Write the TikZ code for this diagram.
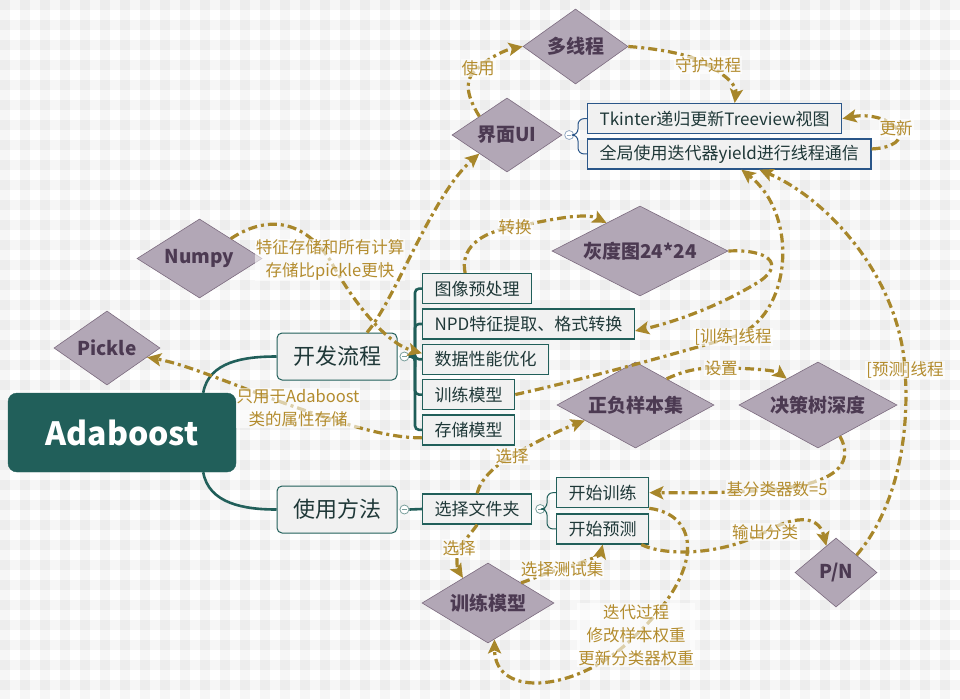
\documentclass[tikz,border=0pt]{standalone}
\usepackage{fontspec}
\setmainfont{Noto Sans CJK SC}
\usepackage{tikz}
\usetikzlibrary{positioning,arrows.meta,shapes.geometric}
\definecolor{mapteal}{HTML}{215F5A}
\definecolor{boxfill}{HTML}{F1F1F1}
\definecolor{boxtext}{HTML}{1F3838}
\definecolor{uiblue}{HTML}{2A5689}
\definecolor{ideafill}{HTML}{B2A7B6}
\definecolor{ideaedge}{HTML}{7C6B7F}
\definecolor{ideatext}{HTML}{4C3A52}
\definecolor{relgold}{HTML}{A8872B}
\definecolor{lblgold}{HTML}{B38C2E}
\newcommand{\mapfont}[2]{\fontsize{#1}{#2}\selectfont}

\begin{document}
\begin{tikzpicture}[x=1pt, y=1pt,
        root/.style={rectangle, rounded corners=9pt, fill=mapteal, draw=mapteal, text=white, font=\bfseries\mapfont{32}{36}, minimum width=228pt, minimum height=79pt},
        topic/.style={rectangle, rounded corners=5pt, fill=boxfill, draw=mapteal, line width=1pt, text=boxtext, font=\mapfont{22}{26}, minimum width=120pt, minimum height=47pt},
        sub/.style={rectangle, fill=boxfill, draw=mapteal, line width=1.3pt, text=boxtext, font=\mapfont{17}{20}, inner xsep=12pt, inner ysep=0pt, minimum height=30pt},
        uisub/.style={sub, draw=uiblue},
        idea/.style={diamond, aspect=1.8, inner sep=0pt, fill=ideafill, draw=ideaedge, line width=.6pt, text=ideatext, font=\bfseries\mapfont{19}{22}},
        fold/.style={circle, draw=#1, fill=white, line width=.8pt, inner sep=0pt, minimum size=9pt, path picture={\draw[#1, line width=.7pt] ([xshift=-2.2pt]path picture bounding box.center) -- ([xshift=2.2pt]path picture bounding box.center);}},
        fold/.default=gray,
        trunk/.style={draw=mapteal, line width=2.6pt},
        twig/.style={draw=#1, line width=1pt, rounded corners=6pt},
        rel/.style={draw=relgold, line width=3.2pt, dash pattern=on 9pt off 4pt on 3pt off 4pt, -{Stealth[length=14pt, width=13pt, inset=3pt]}},
        lbl/.style={text=lblgold, font=\mapfont{16.5}{23}, align=center, fill=white, fill opacity=.6, text opacity=1, inner sep=1pt}]
        \useasboundingbox (0,0) rectangle (960,-699);
        \fill[white] (0,0) rectangle (960,-699);
        \foreach \k in {0,20,...,940} \fill[black, opacity=.035] (\k,0) rectangle ++(10,-699);
        \foreach \k in {0,20,...,680} \fill[black, opacity=.035] (0,-\k) rectangle ++(960,-10);

        \node[root] (ada) at (122,-432.5) {Adaboost};
        \node[topic] (dev) at (337,-356.5) {开发流程};
        \node[topic] (use) at (337,-509.5) {使用方法};
        \node[fold=mapteal!60, right=2pt of dev] (fdev) {};
        \node[fold=mapteal!60, right=2pt of use] (fuse) {};

        \node[sub, anchor=north west] (img) at (422,-273) {图像预处理};
        \node[sub, below right=4pt and 0pt of img.south west] (npd) {NPD特征提取、格式转换};
        \node[sub, below right=4pt and 0pt of npd.south west] (perf) {数据性能优化};
        \node[sub, below right=4pt and 0pt of perf.south west] (model) {训练模型};
        \node[sub, below right=4pt and 0pt of model.south west] (store) {存储模型};

        \node[sub, anchor=west] (folder) at (422,-509) {选择文件夹};
        \node[fold=mapteal!60, right=3pt of folder] (fsel) {};
        \node[sub, anchor=north west] (train) at (556,-477) {开始训练};
        \node[sub, below right=5pt and 0pt of train.south west] (predict) {开始预测};

        \node[uisub, anchor=north west] (tree) at (587,-103) {Tkinter递归更新Treeview视图};
        \node[uisub, below right=4pt and 0pt of tree.south west] (iter) {全局使用迭代器yield进行线程通信};

        \node[idea, minimum width=105pt, minimum height=75pt] (thread) at (575.5,-46.5) {多线程};
        \node[idea, minimum width=110pt, minimum height=74pt] (ui) at (507,-135) {界面UI};
        \node[idea, minimum width=125pt, minimum height=79pt] (numpy) at (199.5,-258.5) {Numpy};
        \node[idea, minimum width=106pt, minimum height=74pt] (pickle) at (107,-348) {Pickle};
        \node[idea, minimum width=176pt, minimum height=90pt] (gray) at (640,-251) {灰度图24*24};
        \node[idea, minimum width=157pt, minimum height=86pt] (samples) at (635.5,-405) {正负样本集};
        \node[idea, minimum width=158pt, minimum height=86pt] (depth) at (818,-405) {决策树深度};
        \node[idea, minimum width=132pt, minimum height=80pt] (trained) at (488,-603) {训练模型};
        \node[idea, minimum width=82pt, minimum height=69pt] (pn) at (836,-572.5) {P/N};
        \node[fold=uiblue!50, right=2pt of ui] (fui) {};

        \draw[trunk] ([xshift=-33pt]ada.north east) to[out=80,in=180] (dev.west);
        \draw[trunk] ([xshift=-33pt]ada.south east) to[out=-80,in=180] (use.west);
        \foreach \s in {img,npd,perf,model,store}
                \draw[trunk, rounded corners=4pt] (fdev.east) -| ([xshift=-7pt]\s.west) -- (\s.west);
        \draw[trunk] (fuse.east) -- (folder.west);
        \foreach \s in {train,predict}
                \draw[twig=mapteal] (fsel.east) -| ([xshift=-9pt]\s.west) -- (\s.west);
        \foreach \s in {tree,iter}
                \draw[twig=uiblue] (fui.east) -| ([xshift=-9pt]\s.west) -- (\s.west);

        \draw[rel] (ui.north west) .. controls (468,-98) and (462,-80) .. (478,-68) node[lbl] (luse) {使用} .. controls (490,-57) and (505,-50) .. (thread.west);
        \draw[rel] (thread.east) .. controls (650,-48) and (690,-53) .. (708,-65) node[lbl] (lguard) {守护进程} .. controls (725,-75) and (737,-85) .. ([xshift=20pt]tree.north);
        \draw[rel] ([yshift=5pt]iter.east) .. controls (892,-148) and (906,-140) .. (896,-128) node[lbl] (lupdate) {更新} .. controls (886,-117) and (866,-114) .. (tree.east);
        \draw[rel] (numpy.north east) .. controls (262,-218) and (300,-215) .. (330,-260) node[lbl] (lnumpy) {特征存储和所有计算\\存储比pickle更快} .. controls (352,-300) and (385,-343) .. ([yshift=6pt]perf.west);
        \draw[rel] ([xshift=30pt]dev.north) .. controls (395,-300) and (432,-195) .. (ui.south west);
        \draw[rel] ([yshift=-8pt]store.west) .. controls (395,-438) and (360,-430) .. (298,-408) node[lbl] (lpickle) {只用于Adaboost\\类的属性存储} .. controls (240,-388) and (190,-365) .. (pickle.-13);
        \draw[rel] ([xshift=-12pt]img.north) .. controls (460,-250) and (478,-232) .. (515,-227) node[lbl] (lconvert) {转换} .. controls (548,-220) and (585,-212) .. (gray.140);
        \draw[rel] (gray.east) .. controls (768,-249) and (785,-264) .. (760,-281) .. controls (722,-305) and (675,-322) .. ([yshift=-7pt]npd.east);
        \draw[rel] (model.east) .. controls (590,-378) and (680,-352) .. (733,-337) node[lbl] (ltrain) {[训练]线程} .. controls (792,-318) and (800,-215) .. ([xshift=12pt]iter.south);
        \draw[rel] (pn.north east) .. controls (895,-510) and (910,-440) .. (905,-370) node[lbl] (lpredict) {[预测]线程} .. controls (900,-280) and (830,-200) .. ([xshift=30pt]iter.south);
        \draw[rel] (samples.40) .. controls (683,-371) and (700,-367) .. (721,-368) node[lbl] (lset) {设置} .. controls (745,-368) and (775,-370) .. (depth.140);
        \draw[rel] (depth.-55) .. controls (852,-458) and (845,-482) .. (777,-489) node[lbl] (lbase) {基分类器数=5} .. controls (740,-493) and (690,-493) .. (train.east);
        \draw[rel] (folder.north) .. controls (480,-480) and (495,-465) .. (512,-456) node[lbl] (lpick) {选择} .. controls (535,-442) and (560,-430) .. (samples.-163);
        \draw[rel] (folder.south) .. controls (472,-532) and (465,-540) .. (459,-548) node[lbl] (lpicktwo) {选择} .. controls (455,-558) and (458,-570) .. (trained.135);
        \draw[rel] (trained.north east) .. controls (535,-578) and (548,-572) .. (562,-569) node[lbl] (ltest) {选择测试集} .. controls (580,-563) and (600,-556) .. (predict.south);
        \draw[rel] ([xshift=-8pt]predict.south east) .. controls (665,-556) and (720,-556) .. (765,-532) node[lbl] (lout) {输出分类} .. controls (790,-518) and (818,-512) .. (pn.110);
        \draw[rel] (train.south east) .. controls (700,-515) and (705,-570) .. (636,-635) node[lbl] (liter) {迭代过程\\修改样本权重\\更新分类器权重} .. controls (580,-692) and (495,-700) .. (trained.-80);
\end{tikzpicture}
\end{document}
